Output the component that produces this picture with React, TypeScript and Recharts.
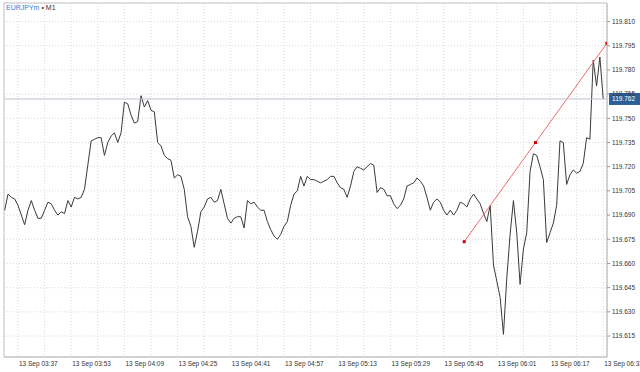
import { CartesianGrid, Line, LineChart, ReferenceArea, ReferenceLine, XAxis, YAxis } from "recharts";

// EURJPYm M1 closes, one per minute starting at firstBar
const symbol = "EURJPYm";
const timeframe = "M1";
const day = "13 Sep";
const firstBar = "03:33";
const closes = [
    119.693, 119.703, 119.701, 119.700, 119.696, 119.690, 119.684, 119.693, 119.699, 119.693,
    119.688, 119.688, 119.693, 119.698, 119.697, 119.693, 119.690, 119.692, 119.691, 119.699,
    119.695, 119.701, 119.700, 119.701, 119.706, 119.721, 119.736, 119.737, 119.738, 119.738,
    119.727, 119.735, 119.739, 119.741, 119.735, 119.741, 119.760, 119.759, 119.752, 119.747,
    119.748, 119.764, 119.757, 119.761, 119.755, 119.754, 119.735, 119.733, 119.727, 119.725,
    119.724, 119.713, 119.715, 119.714, 119.706, 119.689, 119.683, 119.670, 119.680, 119.692,
    119.695, 119.700, 119.701, 119.698, 119.699, 119.706, 119.697, 119.688, 119.685, 119.688,
    119.689, 119.689, 119.682, 119.699, 119.697, 119.698, 119.695, 119.693, 119.693, 119.686,
    119.681, 119.677, 119.675, 119.678, 119.683, 119.686, 119.696, 119.703, 119.705, 119.714,
    119.708, 119.714, 119.712, 119.712, 119.711, 119.710, 119.711, 119.712, 119.714, 119.714,
    119.710, 119.707, 119.706, 119.701, 119.708, 119.717, 119.720, 119.719, 119.718, 119.720,
    119.722, 119.721, 119.704, 119.707, 119.706, 119.702, 119.702, 119.697, 119.694, 119.696,
    119.700, 119.708, 119.709, 119.710, 119.713, 119.711, 119.708, 119.701, 119.693, 119.698,
    119.700, 119.698, 119.693, 119.690, 119.693, 119.690, 119.693, 119.698, 119.697, 119.695,
    119.700, 119.703, 119.700, 119.697, 119.691, 119.686, 119.696, 119.659, 119.649, 119.639,
    119.616, 119.651, 119.678, 119.699, 119.679, 119.647, 119.669, 119.679, 119.717, 119.728,
    119.727, 119.720, 119.712, 119.673, 119.679, 119.685, 119.696, 119.736, 119.735, 119.709,
    119.715, 119.718, 119.716, 119.717, 119.722, 119.738, 119.737, 119.786, 119.770, 119.788,
    119.762,
];
const lastPrice = 119.762;

const priceTicks = [
    119.615, 119.630, 119.645, 119.660, 119.675, 119.690, 119.705,
    119.720, 119.735, 119.750, 119.765, 119.780, 119.795, 119.810,
];
const timeLabels = ["03:37", "03:53", "04:09", "04:25", "04:41", "04:57", "05:13", "05:29", "05:45", "06:01", "06:17", "06:33"];

// trend line anchors (minutes after first bar, price)
const trendOffsets = [138.2, 159.65, 181.1];
const trendPrices = [119.6735, 119.735, 119.7965];

const toMin = (s: string) => {
    const [h, m] = s.split(":").map(Number);
    return h * 60 + m;
};
const pad = (n: number) => String(n).padStart(2, "0");
const fmt = (m: number) => `${pad(Math.floor(m / 60))}:${pad(m % 60)}`;

const start = toMin(firstBar);
const bars = closes.map((close, i) => ({ t: start + i, close }));
const trend = trendOffsets.map((o, i) => ({ t: start + o, price: trendPrices[i] }));

const labelSet = new Set(timeLabels.map(toMin));
// grid every 8 minutes, labels every 16
const gridTicks = timeLabels.flatMap((l, i) => (i < timeLabels.length - 1 ? [toMin(l), toMin(l) + 8] : [toMin(l)]));

const xDomain = [start - 0.21, start + 181.14];
const yDomain = [119.602, 119.8215];

const font = "'Liberation Sans', Arial, sans-serif";

function TimeTick(props: any) {
    const { x, y, payload } = props;
    if (!labelSet.has(payload.value)) return null;
    return <text x={x + 1} y={y} dy="0.71em" textAnchor="start" fontSize={6.5} fontFamily={font} fill="#333">
        {`${day} ${fmt(payload.value)}`}
    </text>;
}

function PriceTag(props: any) {
    const { x, y, width } = props.viewBox;
    return <g>
        <rect x={x + width + 2} y={y - 6} width={31} height={12} fill="#2b5f95" />
        <text x={x + width + 5} y={y} dy="0.355em" fontSize={6.5} fontFamily={font} fill="#fff">{lastPrice.toFixed(3)}</text>
    </g>;
}

function AnchorDot(props: any) {
    const { cx, cy } = props;
    return <rect x={cx - 1.5} y={cy - 1.5} width={3} height={3} fill="#d10000" />;
}

export default function App() {
    return <div style={{ position: "absolute", left: 0, top: 0, width: 640, height: 372, background: "#fff" }}>
        <LineChart width={640} height={372} margin={{ top: 3, right: 0, bottom: 0, left: 4 }}>
            <CartesianGrid stroke="#d9d9d9" strokeDasharray="1 2" />
            <XAxis dataKey="t" type="number" domain={xDomain} allowDataOverflow ticks={gridTicks} interval={0}
                tick={<TimeTick />} tickLine={false} tickSize={0} tickMargin={4} height={15}
                axisLine={{ stroke: "#c4c4c4" }} />
            <YAxis orientation="right" type="number" domain={yDomain} allowDataOverflow ticks={priceTicks} interval={0}
                width={33} tickSize={3} tickMargin={2} tickLine={{ stroke: "#999" }} axisLine={{ stroke: "#c4c4c4" }}
                tick={{ fontSize: 6.5, fontFamily: font, fill: "#333" }} tickFormatter={(v: number) => v.toFixed(3)} />
            <ReferenceArea x1={xDomain[0]} x2={xDomain[1]} y1={yDomain[0]} y2={yDomain[1]} fill="none" stroke="#c4c4c4" />
            <Line data={bars} dataKey="close" stroke="#3a3a3a" strokeWidth={1} dot={false} isAnimationActive={false} />
            <Line data={trend} dataKey="price" stroke="#ef6b6b" strokeWidth={1} dot={<AnchorDot />} isAnimationActive={false} />
            <ReferenceLine y={lastPrice} stroke="#bcc3ce" label={<PriceTag />} />
        </LineChart>
        <div style={{ position: "absolute", left: 6, top: 3, fontSize: 7, fontFamily: font, lineHeight: "9px" }}>
            <span style={{ color: "#2f7fd6" }}>{symbol}</span>
            <span style={{ color: "#333" }}> • {timeframe}</span>
        </div>
    </div>;
}
